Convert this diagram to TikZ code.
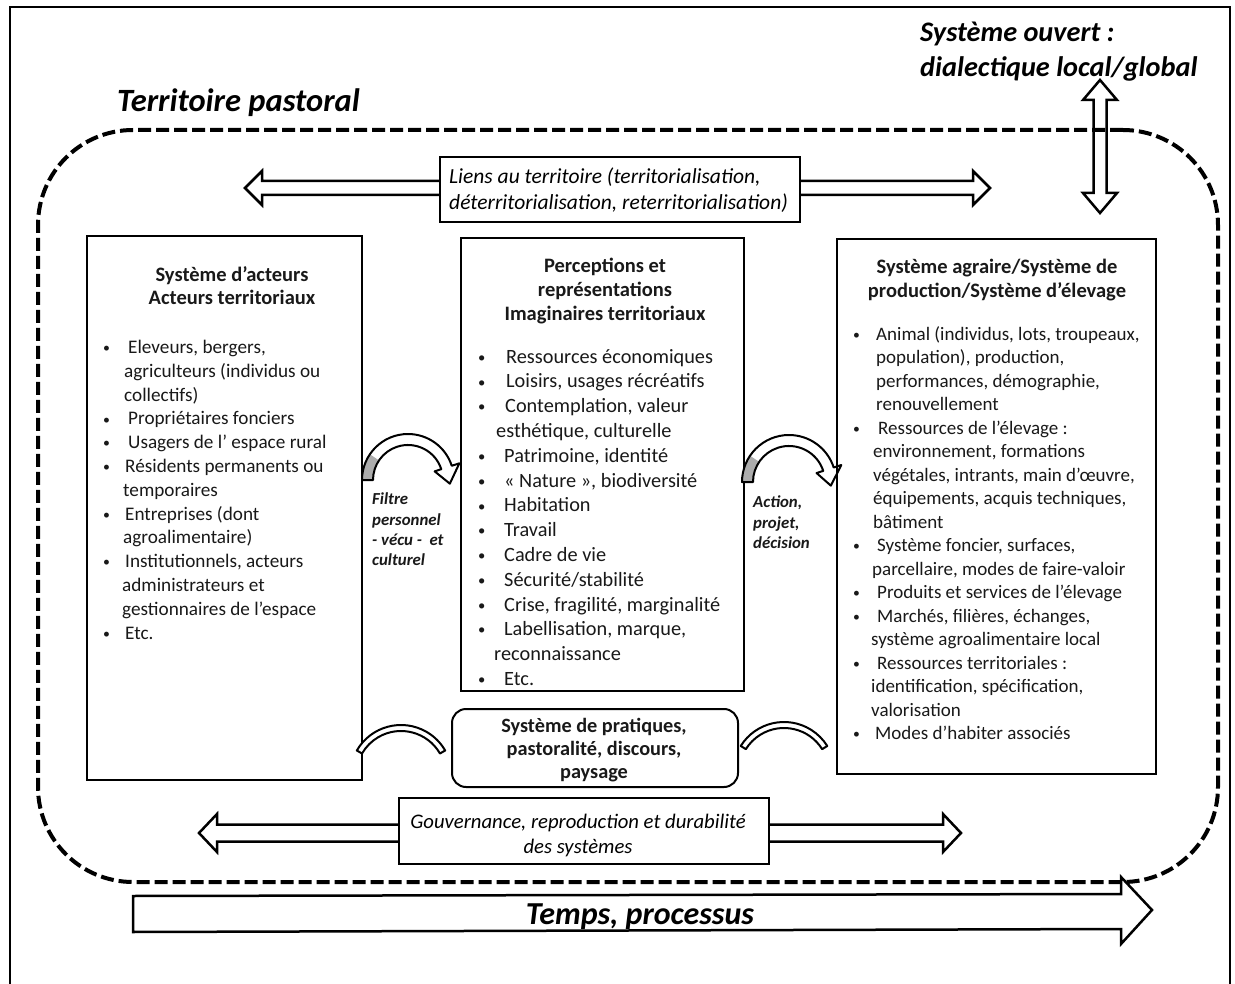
\documentclass[tikz,border=0pt]{standalone}
\usepackage{fontspec}
\usepackage{graphicx}
\setmainfont{Carlito}
\usetikzlibrary{calc}
\newcommand{\sbul}{\raisebox{0.1ex}{\scalebox{0.72}{\textbullet}}}
\newcommand{\BU}[2]{\makebox[#1][l]{\sbul}#2}
\newcommand{\CO}[2]{\hspace*{#1}#2}
\begin{document}
\begin{tikzpicture}[x=1pt,y=-1pt,
  box/.style={draw=black, line width=2pt, fill=white, inner sep=0pt, anchor=north west},
  body/.style={anchor=north west, inner sep=0pt, align=left, text=black!90, font=\fontsize{19.5}{23.6}\selectfont},
  ttl/.style={anchor=north, inner sep=0pt, align=center, text=black!90, font=\bfseries\fontsize{20.5}{23.8}\selectfont},
  blockarrow/.style={draw=black, line width=2.5pt, fill=white, line join=miter},
  thinarc/.style={draw=black, line width=2pt, fill=white, line join=round},
  small/.style={anchor=north west, inner sep=0pt, align=left, text=black!90, font=\bfseries\itshape\fontsize{16.8}{20.3}\selectfont}
]
\useasboundingbox (0,0) rectangle (1235,984);
\fill[white] (0,0) rectangle (1235,984);
% outer frame
\draw[line width=1.5pt] (10,995) -- (10,7) -- (1230,7) -- (1230,995);

% territory
\node[draw=black, line width=4pt, dash pattern=on 13pt off 5pt, rounded corners=95pt,
      minimum width=1180pt, minimum height=752pt, inner sep=0pt] (terr) at (628,506) {};
\node[anchor=west, inner sep=0pt, font=\bfseries\itshape\fontsize{32.5}{36}\selectfont] (terrlabel) at (117,103) {Territoire pastoral};

% open system
\node[anchor=north west, inner sep=0pt, align=left, font=\bfseries\itshape\fontsize{28.3}{35}\selectfont] (ouvert) at (920,22) {Système ouvert :\\dialectique local/global};
\coordinate (vT) at (1100,80);
\coordinate (vB) at (1100,213);
\draw[line width=2.5pt, line join=miter] (vT) -- ++(17,20) -- ++(-10.5,0) -- ($(vB)+(6.5,-20)$) -- ++(10.5,0) -- (vB) -- ++(-17,-20) -- ++(10.5,0) -- ($(vT)+(-6.5,20)$) -- ++(-10.5,0) -- cycle;

% Liens arrow
\coordinate (liensL) at (245,188);
\coordinate (liensR) at (990,188);
\draw[blockarrow] (liensL) -- ++(17,-17) -- ++(0,10) -- ($(liensR)+(-17,-7)$) -- ++(0,-10) -- (liensR) -- ++(-17,17) -- ++(0,-10) -- ($(liensL)+(17,7)$) -- ++(0,10) -- cycle;
\node[box] (liens) at (439,156) [minimum width=360pt, minimum height=65pt] {};
\node[anchor=north west, inner sep=0pt, align=left, font=\itshape\fontsize{21.5}{25.5}\selectfont] (lienstxt) at (449,168) {Liens au territoire (territorialisation,\\déterritorialisation, reterritorialisation)};

% Gouvernance arrow
\coordinate (gouvL) at (199,833);
\coordinate (gouvR) at (961,833);
\draw[blockarrow] (gouvL) -- ++(18,-19) -- ++(0,10.5) -- ($(gouvR)+(-18,-8.5)$) -- ++(0,-10.5) -- (gouvR) -- ++(-18,19) -- ++(0,-10.5) -- ($(gouvL)+(18,8.5)$) -- ++(0,10.5) -- cycle;
\node[box] (gouv) at (398,797) [minimum width=370pt, minimum height=66pt] {};
\node[anchor=north, inner sep=0pt, align=center, font=\itshape\fontsize{20.7}{25}\selectfont] (gouvtxt) at (578,814) {Gouvernance, reproduction et durabilité\\des systèmes};

% Temps arrow
\coordinate (tempsL) at (133,912);
\coordinate (tempsR) at (1152,910);
\draw[blockarrow] ($(tempsL)+(0,-16)$) -- ($(tempsR)+(-31,-16)$) -- ++(0,-17) -- (tempsR) -- ($(tempsR)+(-31,34)$) -- ++(0,-15) -- ($(tempsL)+(0,20)$) -- cycle;
\node[inner sep=0pt, font=\bfseries\itshape\fontsize{32}{34}\selectfont] (tempstxt) at (640,917) {Temps, processus};

% boxes
\node[box, minimum width=275pt, minimum height=544pt] (acteurs) at (86,235) {};
\node[box, minimum width=283pt, minimum height=453pt] (percep) at (460,237) {};
\node[box, minimum width=319pt, minimum height=535pt] (agraire) at (836,238) {};
\node[box, rounded corners=14pt, minimum width=286pt, minimum height=78pt] (pratiq) at (451,708) {};

% left box text
\node[ttl] (acteursT) at (232,266) {Système d’acteurs\\Acteurs territoriaux};
\node[body, font=\fontsize{19.2}{23.8}\selectfont] (acteursL) at (103,340) {%
\BU{25pt}{Eleveurs, bergers,}\\
\CO{21pt}{agriculteurs (individus ou}\\
\CO{21pt}{collectifs)}\\
\BU{25pt}{Propriétaires fonciers}\\
\BU{25pt}{Usagers de l’ espace rural}\\
\BU{22pt}{Résidents permanents ou}\\
\CO{20pt}{temporaires}\\
\BU{22pt}{Entreprises (dont}\\
\CO{20pt}{agroalimentaire)}\\
\BU{22pt}{Institutionnels, acteurs}\\
\CO{19pt}{administrateurs et}\\
\CO{19pt}{gestionnaires de l’espace}\\
\BU{22pt}{Etc.}};

% middle box text
\node[ttl] (percepT) at (605,258) {Perceptions et\\représentations\\Imaginaires territoriaux};
\node[body, font=\fontsize{20.3}{24.8}\selectfont] (percepL) at (478,349) {%
\BU{28pt}{Ressources économiques}\\
\BU{28pt}{Loisirs, usages récréatifs}\\
\BU{27pt}{Contemplation, valeur}\\
\CO{18pt}{esthétique, culturelle}\\
\BU{26pt}{Patrimoine, identité}\\
\BU{26pt}{« Nature », biodiversité}\\
\BU{26pt}{Habitation}\\
\BU{26pt}{Travail}\\
\BU{26pt}{Cadre de vie}\\
\BU{26pt}{Sécurité/stabilité}\\
\BU{26pt}{Crise, fragilité, marginalité}\\
\BU{26pt}{Labellisation, marque,}\\
\CO{16pt}{reconnaissance}\\
\BU{26pt}{Etc.}};

% right box text
\node[ttl] (agraireT) at (997,259) {Système agraire/Système de\\production/Système d’élevage};
\node[body, font=\fontsize{19}{23.5}\selectfont] (agraireL) at (853,326) {%
\BU{23pt}{Animal (individus, lots, troupeaux,}\\
\CO{23pt}{population), production,}\\
\CO{23pt}{performances, démographie,}\\
\CO{23pt}{renouvellement}\\
\BU{25pt}{Ressources de l’élevage :}\\
\CO{20pt}{environnement, formations}\\
\CO{20pt}{végétales, intrants, main d’œuvre,}\\
\CO{20pt}{équipements, acquis techniques,}\\
\CO{20pt}{bâtiment}\\
\BU{24pt}{Système foncier, surfaces,}\\
\CO{19pt}{parcellaire, modes de faire-valoir}\\
\BU{24pt}{Produits et services de l’élevage}\\
\BU{24pt}{Marchés, filières, échanges,}\\
\CO{18pt}{système agroalimentaire local}\\
\BU{24pt}{Ressources territoriales :}\\
\CO{18pt}{identification, spécification,}\\
\CO{18pt}{valorisation}\\
\BU{22pt}{Modes d’habiter associés}};

% pratiques text
\node[ttl, font=\bfseries\fontsize{20.3}{23}\selectfont] (pratiqT) at (594,718) {Système de pratiques,\\pastoralité, discours,\\paysage};

% curved arrows top
\coordinate (cA) at (408,480);
\fill[gray!65] ($(cA)+(180:46)$) arc[start angle=180, end angle=214, radius=46] -- ($(cA)+(214:35)$) arc[start angle=214, end angle=180, radius=35] -- cycle;
\draw[line width=2pt, line join=round] ($(cA)+(180:46)$) arc[start angle=180, end angle=342, radius=46] -- ($(cA)+(342:54)$) -- ($(cA)+(5:42)$) -- ($(cA)+(342:28)$) -- ($(cA)+(342:35)$) arc[start angle=342, end angle=180, radius=35] -- cycle;
\node[small] (filtre) at (372,493) {Filtre\\personnel\\- vécu -~ et\\culturel};

\coordinate (cB) at (789,482);
\fill[gray!65] ($(cB)+(180:47)$) arc[start angle=180, end angle=214, radius=47] -- ($(cB)+(214:36)$) arc[start angle=214, end angle=180, radius=36] -- cycle;
\draw[line width=2pt, line join=round] ($(cB)+(180:47)$) arc[start angle=180, end angle=342, radius=47] -- ($(cB)+(342:55)$) -- ($(cB)+(5:42)$) -- ($(cB)+(342:29)$) -- ($(cB)+(342:36)$) arc[start angle=342, end angle=180, radius=36] -- cycle;
\node[small] (action) at (753,496) {Action,\\projet,\\décision};

% bottom thin arcs
\coordinate (cC) at (401,776);
\draw[thinarc] ($(cC)+(210:51)$) arc[start angle=210, end angle=330, radius=51] -- ($(cC)+(330:45)$) arc[start angle=330, end angle=210, radius=45] -- cycle;
\coordinate (cD) at (784,773);
\draw[thinarc] ($(cD)+(212:51)$) arc[start angle=212, end angle=328, radius=51] -- ($(cD)+(328:45)$) arc[start angle=328, end angle=212, radius=45] -- cycle;
\end{tikzpicture}
\end{document}
